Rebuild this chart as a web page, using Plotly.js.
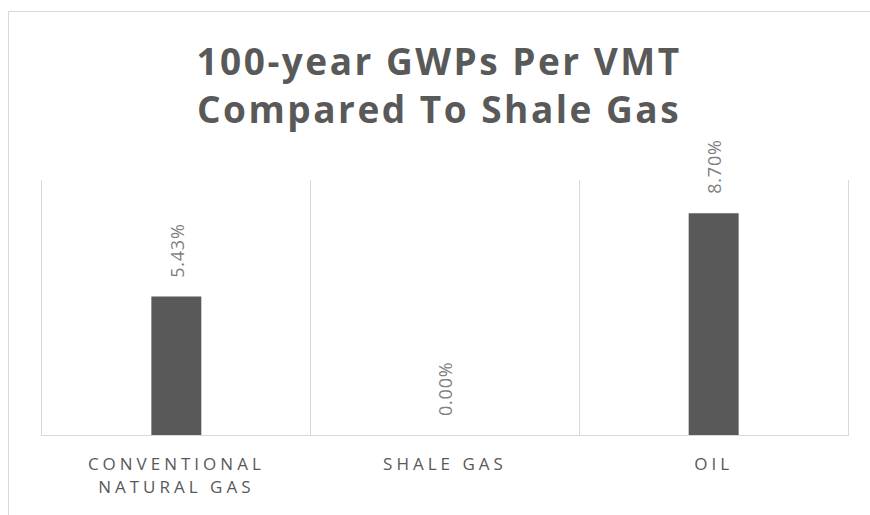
<!DOCTYPE html>
<html>
<head>
<meta charset="utf-8">
<script src="https://cdn.plot.ly/plotly-3.0.1.min.js"></script>
<style>
  html, body { margin: 0; padding: 0; background: #ffffff; overflow: hidden; }
  #frame { position: absolute; left: 8px; top: 11px; width: 900px; height: 600px;
           border-left: 1px solid #d9d9d9; border-top: 1px solid #d9d9d9; }
  #chart { position: absolute; left: 0; top: 0; width: 870px; height: 515px; }
  .xtick text { letter-spacing: 4px; }
  .gtitle { letter-spacing: 2.5px; }
  .annotation-text { letter-spacing: 0.8px; }
</style>
</head>
<body>
<div id="frame"></div>
<div id="chart"></div>
<script>
const categories = ['CONVENTIONAL<br>NATURAL GAS', 'SHALE GAS', 'OIL'];
const values = [0.0543, 0.0000, 0.0870];
const valueLabels = ['5.43%', '0.00%', '8.70%'];
const titleText = '100-year GWPs Per VMT<br>Compared To Shale Gas';

const trace = {
  type: 'bar',
  x: categories,
  y: values,
  marker: { color: '#595959' },
  hoverinfo: 'skip'
};

const annotations = categories.map((c, i) => ({
  x: c, y: values[i], xref: 'x', yref: 'y',
  text: valueLabels[i],
  showarrow: false,
  textangle: -90,
  yanchor: 'bottom',
  xanchor: 'center',
  yshift: 17,
  font: { family: 'Open Sans', size: 18, color: '#7f7f7f' }
}));

const layout = {
  width: 870, height: 515,
  margin: { l: 42, r: 22, t: 180, b: 80, pad: 0 },
  paper_bgcolor: 'rgba(0,0,0,0)',
  plot_bgcolor: 'rgba(0,0,0,0)',
  showlegend: false,
  bargap: 0.814,
  title: {
    text: titleText,
    font: { family: 'Open Sans', size: 37, color: '#595959', weight: 700 },
    x: 0.4926, xref: 'paper', xanchor: 'center',
    y: 0.855, yref: 'container', yanchor: 'top'
  },
  xaxis: {
    type: 'category',
    tickson: 'boundaries',
    showgrid: true, gridcolor: '#d9d9d9', gridwidth: 1,
    showline: true, linecolor: '#d9d9d9', linewidth: 1,
    ticks: '',
    tickfont: { family: 'Open Sans', size: 17, color: '#595959' },
    ticklabelstandoff: 14,
    fixedrange: true
  },
  yaxis: {
    range: [0, 0.1],
    showgrid: false, zeroline: false,
    showline: true, mirror: true, linecolor: '#d9d9d9', linewidth: 1,
    showticklabels: false, ticks: '',
    fixedrange: true
  },
  annotations: annotations,
  hovermode: false
};

Plotly.newPlot('chart', [trace], layout, { displayModeBar: false, staticPlot: true });
</script>
</body>
</html>
